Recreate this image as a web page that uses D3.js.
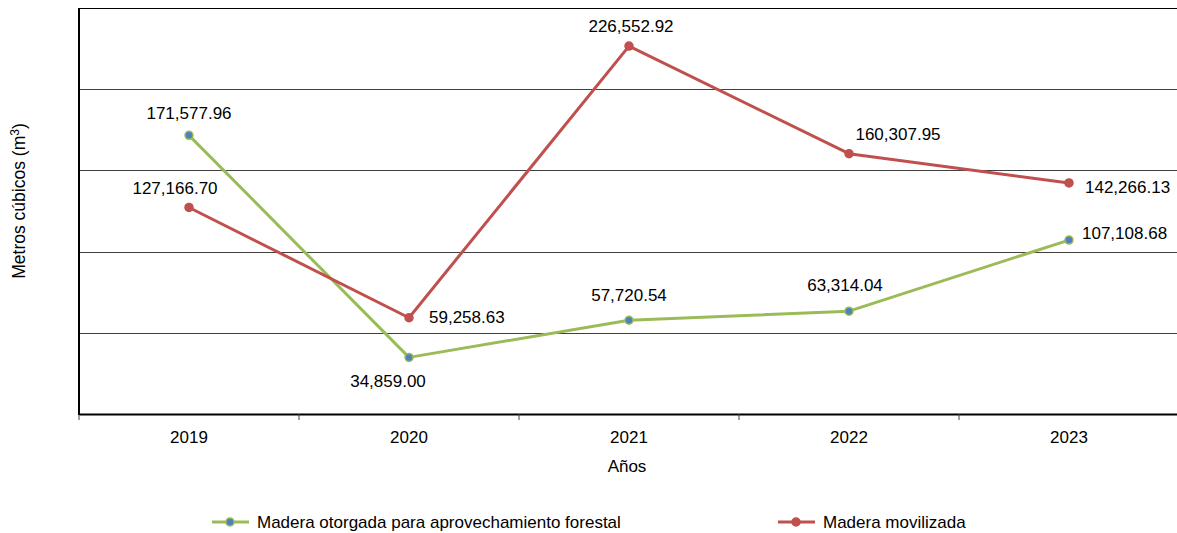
<!DOCTYPE html>
<html><head><meta charset="utf-8">
<script src="https://cdn.jsdelivr.net/npm/d3@7"></script>
<style>body{margin:0;background:#fff}svg{font-family:"Liberation Sans",Arial,sans-serif}</style>
</head><body><svg id="c" width="1177" height="533"></svg>
<script>
const years = ["2019","2020","2021","2022","2023"];
const otorgada = [171577.96, 34859.00, 57720.54, 63314.04, 107108.68];
const movilizada = [127166.70, 59258.63, 226552.92, 160307.95, 142266.13];
const yTicks = [0, 50000, 100000, 150000, 200000, 250000];
const seriesNames = ["Madera otorgada para aprovechamiento forestal", "Madera movilizada"];
// label offsets (dx, baseline dy, anchor) relative to each point
const offOtorgada = [[0,-16,"middle"],[-21,30,"middle"],[0,-19,"middle"],[-4,-20,"middle"],[13,-1,"start"]];
const offMovilizada = [[-14,-13,"middle"],[20,5,"start"],[2,-14,"middle"],[49,-14,"middle"],[16,10,"start"]];

const svg = d3.select("#c");
const x = d3.scaleBand().domain(years).range([79,1179]);
const y = d3.scaleLinear().domain([0,250000]).range([414,8]);
const fmt = d3.format(",.2f");
const green="#9BBB59", red="#C0504D", blue="#4F81BD";

// gridlines
svg.append("g").selectAll("line").data(yTicks.slice(1)).join("line")
  .attr("x1",79).attr("x2",1177).attr("y1",d=>Math.round(y(d))+0.5).attr("y2",d=>Math.round(y(d))+0.5)
  .attr("stroke",(d,i)=>i===yTicks.length-2?"#000":"#404040").attr("stroke-width",1.2);

// x axis
const xa = svg.append("g").attr("transform","translate(0,414)")
  .call(d3.axisBottom(x).tickSize(0).tickPadding(17));
xa.select(".domain").attr("stroke","#000").attr("stroke-width",2);
xa.selectAll("text").attr("font-size",17).attr("fill","#000").attr("font-family","Liberation Sans, Arial, sans-serif");
const bounds = years.map(d=>x(d)).concat([x(years[years.length-1])+x.bandwidth()]);
svg.append("g").selectAll("line").data(bounds.filter(b=>b<1177)).join("line")
  .attr("x1",d=>d).attr("x2",d=>d).attr("y1",414).attr("y2",420).attr("stroke","#404040").attr("stroke-width",1);
// y axis line
svg.append("line").attr("x1",79).attr("x2",79).attr("y1",8).attr("y2",415).attr("stroke","#000").attr("stroke-width",2);

// titles
svg.append("text").attr("x",627).attr("y",472).attr("text-anchor","middle").attr("font-size",17).text("Años");
const yt = svg.append("text").attr("transform","translate(25,201) rotate(-90)").attr("text-anchor","middle").attr("font-size",17.5);
yt.append("tspan").text("Metros cúbicos (m");
yt.append("tspan").attr("dy",-6).attr("font-size",12).text("3");
yt.append("tspan").attr("dy",6).text(")");

const cx = d=>x(d)+x.bandwidth()/2;
function drawSeries(vals, color, fill, offs){
  const pts = vals.map((v,i)=>[cx(years[i]), y(v)]);
  svg.append("path").attr("d",d3.line()(pts)).attr("fill","none").attr("stroke",color).attr("stroke-width",3).attr("stroke-linejoin","round");
  svg.append("g").selectAll("circle").data(pts).join("circle")
    .attr("cx",d=>d[0]).attr("cy",d=>d[1]).attr("r",4).attr("fill",fill).attr("stroke",color).attr("stroke-width",1.5);
  svg.append("g").selectAll("text").data(vals).join("text")
    .attr("x",(v,i)=>pts[i][0]+offs[i][0]).attr("y",(v,i)=>pts[i][1]+offs[i][1])
    .attr("text-anchor",(v,i)=>offs[i][2]).attr("font-size",17).attr("fill","#000").text(v=>fmt(v));
}
drawSeries(otorgada, green, blue, offOtorgada);
drawSeries(movilizada, red, red, offMovilizada);

// legend
const leg = [{n:seriesNames[0],c:green,f:blue,x:212},{n:seriesNames[1],c:red,f:red,x:778}];
const lg = svg.append("g").selectAll("g").data(leg).join("g").attr("transform",d=>`translate(${d.x},522)`);
lg.append("line").attr("x1",0).attr("x2",37).attr("stroke",d=>d.c).attr("stroke-width",3);
lg.append("circle").attr("cx",18).attr("r",4).attr("fill",d=>d.f).attr("stroke",d=>d.c).attr("stroke-width",1.5);
lg.append("text").attr("x",45).attr("y",6).attr("font-size",17).text(d=>d.n);
</script></body></html>
